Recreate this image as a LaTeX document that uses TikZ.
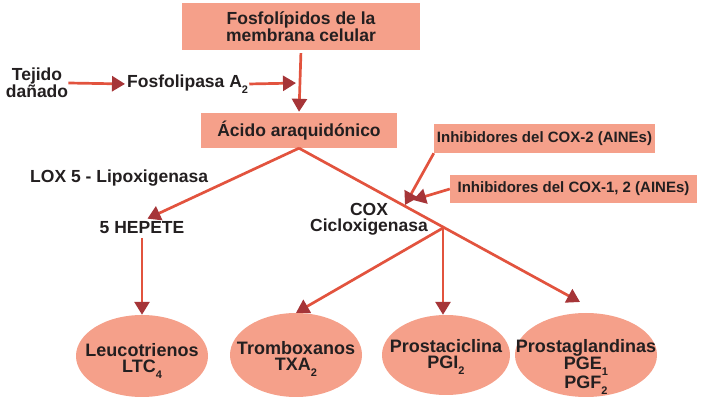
\documentclass[tikz,border=0pt]{standalone}
\usepackage{fontspec}
\setmainfont{Liberation Sans}
\usetikzlibrary{arrows.meta,shapes.geometric}

\definecolor{salmon}{HTML}{F5A08A}
\definecolor{flowred}{HTML}{E2533E}
\definecolor{tipred}{HTML}{A63538}
\definecolor{inktext}{HTML}{231F20}

\newcommand{\chemsub}[1]{\raisebox{-5.5pt}{\fontsize{11}{11}\selectfont #1}}

\tikzset{
    flow/.style={draw=flowred, line width=2.7pt, -{Triangle[width=15pt,length=13pt,color=tipred]}},
    box/.style={rectangle, fill=salmon, inner sep=0pt, align=center},
    bubble/.style={ellipse, fill=salmon, inner sep=0pt},
    bubbletext/.style={align=center, inner sep=0pt, font=\bfseries\fontsize{18}{16}\selectfont},
    tag/.style={inner sep=0pt, align=center}
}

\begin{document}
\begin{tikzpicture}[x=1pt, y=-1pt, font=\bfseries\fontsize{17.5}{15.5}\selectfont, text=inktext]
            \useasboundingbox (0,0) rectangle (702,403);

            \begin{scope}[every node/.style={box}]
                \node[minimum width=238pt, minimum height=47pt] (fosfo) at (301,26.5) {Fosfolípidos de la\\membrana celular};
                \node[minimum width=196pt, minimum height=35pt] (acido) at (299,130.5) {Ácido araquidónico};
                \node[minimum width=221pt, minimum height=29pt, font=\bfseries\fontsize{15}{15}\selectfont] (coxtwo) at (544.5,138.5) {Inhibidores del COX-2 (AINEs)};
                \node[minimum width=247pt, minimum height=28pt, font=\bfseries\fontsize{15}{15}\selectfont] (coxonetwo) at (573.5,189) {Inhibidores del COX-1, 2 (AINEs)};
            \end{scope}

            \begin{scope}[every node/.style={tag}]
                \node (tejido) at (37,83) {Tejido\\dañado};
                \node[anchor=west] (fosfolipasa) at (127,84) {Fosfolipasa A\chemsub{2}};
                \node[anchor=west] (lox) at (30,178) {LOX 5 - Lipoxigenasa};
                \node (hepete) at (142,227.5) {5 HEPETE};
                \node (cox) at (369,219) {COX\\Cicloxigenasa};
            \end{scope}

            \begin{scope}[every node/.style={bubble}]
                \node[minimum width=132pt, minimum height=82pt, label={[bubbletext, yshift=-5pt]center:{Leucotrienos\\LTC\chemsub{4}}}] (leuco) at (142,356) {};
                \node[minimum width=132pt, minimum height=84pt, label={[bubbletext, yshift=-4pt]center:{Tromboxanos\\TXA\chemsub{2}}}] (trombo) at (296,355) {};
                \node[minimum width=128pt, minimum height=80pt, label={[bubbletext, yshift=-2pt]center:{Prostaciclina\\PGI\chemsub{2}}}] (prostaci) at (446,355) {};
                \node[minimum width=142pt, minimum height=84pt, label={[bubbletext, yshift=-12pt]center:{Prostaglandinas\\PGE\chemsub{1}\\PGF\chemsub{2}}}] (prostagl) at (586,355) {};
            \end{scope}

            \coordinate (join) at (299,83);
            \coordinate (split) at (443,228);
            \coordinate (pgtop) at (580,302);
            \coordinate (blocktwo) at (405,205);
            \coordinate (blockonetwo) at (413,200);

            \draw[flow, shorten <=3pt, shorten >=1pt] (fosfo.south) -- (acido.north);
            \draw[flow, shorten >=2pt] (tejido.east) -- (fosfolipasa.west);
            \draw[flow, shorten <=1pt, shorten >=3pt] (fosfolipasa.east) -- (join);

            \draw[flow, shorten >=6pt] (acido.south) -- (hepete.north);
            \draw[flow, shorten <=4pt] (hepete.south) -- (hepete.south |- leuco.north);
            \draw[flow] (acido.south) -- (pgtop);
            \draw[flow] (split) -- (trombo.north);
            \draw[flow] (split) -- (split |- prostaci.north);

            \draw[flow] (coxtwo.south west) -- (blocktwo);
            \draw[flow] (coxonetwo.west) -- (blockonetwo);
        \end{tikzpicture}
\end{document}
